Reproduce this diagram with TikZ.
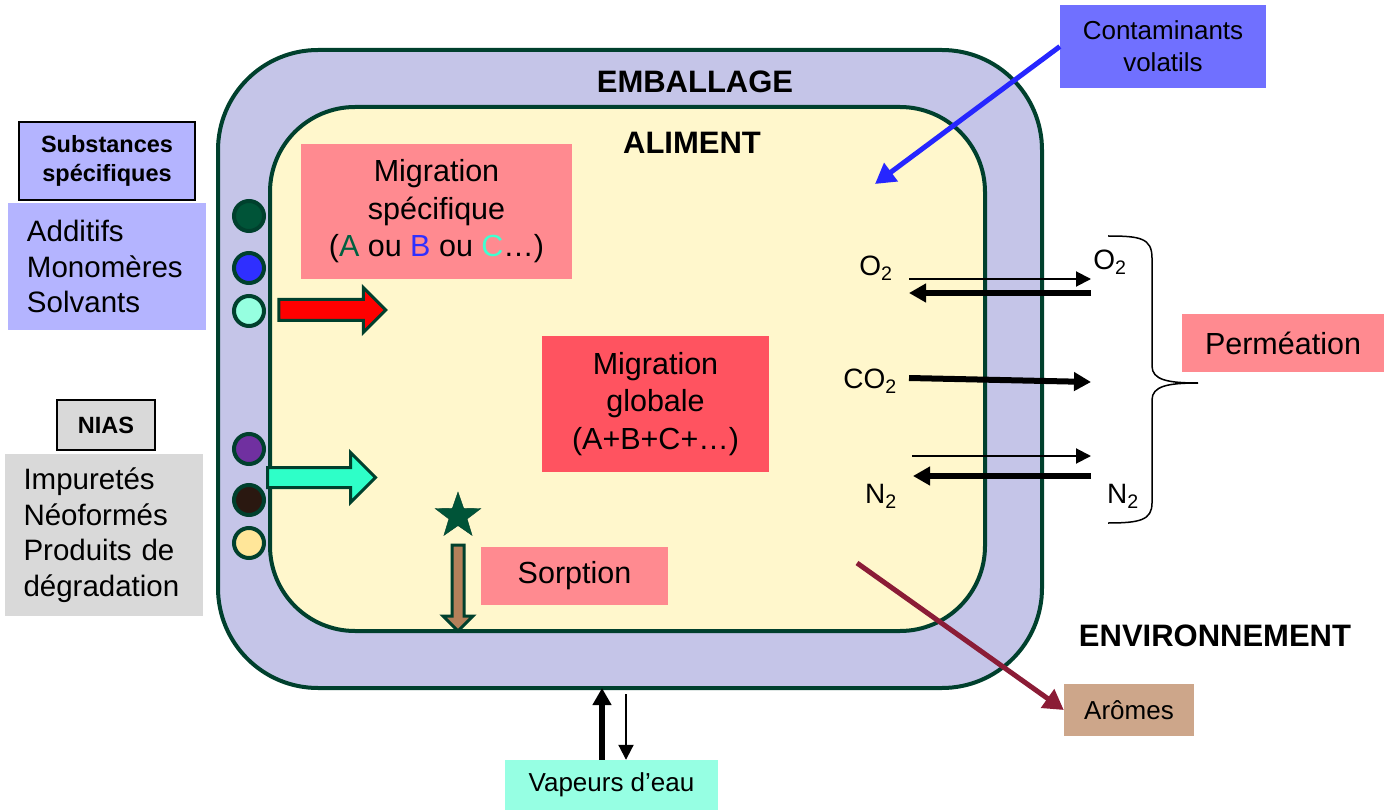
\documentclass[tikz,border=0pt]{standalone}
\usepackage{fontspec}
\setmainfont{Liberation Sans}
\usetikzlibrary{shapes.geometric,shapes.arrows,arrows.meta}

\definecolor{packline}{RGB}{0,64,45}
\definecolor{packfill}{RGB}{197,197,232}
\definecolor{foodfill}{RGB}{255,247,204}
\definecolor{pinkbox}{RGB}{255,138,144}
\definecolor{redbox}{RGB}{255,83,96}
\definecolor{substbox}{RGB}{180,180,255}
\definecolor{contambox}{RGB}{112,112,255}
\definecolor{greybox}{RGB}{217,217,217}
\definecolor{aromebox}{RGB}{205,166,138}
\definecolor{vapbox}{RGB}{150,255,227}
\definecolor{bluearr}{RGB}{38,38,255}
\definecolor{winearr}{RGB}{139,28,54}
\definecolor{tealarr}{RGB}{46,255,200}
\definecolor{sorparr}{RGB}{181,128,90}
\definecolor{dotA}{RGB}{0,84,56}
\definecolor{dotB}{RGB}{47,47,255}
\definecolor{dotC}{RGB}{150,255,224}
\definecolor{dotD}{RGB}{112,48,160}
\definecolor{dotE}{RGB}{42,24,16}
\definecolor{dotF}{RGB}{255,230,153}
\definecolor{letA}{RGB}{0,96,64}
\definecolor{letC}{RGB}{64,255,208}

\begin{document}
\begin{tikzpicture}[x=1pt,y=-1pt,
  pack/.style={draw=packline,line width=4pt,fill=packfill,rounded corners=100pt},
  food/.style={draw=packline,line width=4pt,fill=foodfill,rounded corners=85pt},
  box/.style={inner sep=0pt,align=center,font=\fontsize{30.5}{37.5}\selectfont},
  smallbox/.style={inner sep=0pt,align=center,font=\fontsize{26}{32}\selectfont},
  listbox/.style={inner xsep=19pt,inner ysep=0pt,align=left,text width=160pt,font=\fontsize{29.5}{35.5}\selectfont},
  tagbox/.style={draw=black,line width=1.5pt,inner sep=0pt,align=center,font=\bfseries\fontsize{23.5}{29}\selectfont},
  title/.style={inner sep=0pt,font=\bfseries\fontsize{31}{37}\selectfont},
  gas/.style={inner sep=0pt,font=\fontsize{28}{34}\selectfont},
  dot/.style={circle,draw=packline,line width=4pt,minimum size=30pt,inner sep=0pt},
  bigarrow/.style={single arrow,draw=packline,line width=3pt,inner xsep=0pt},
  thinarr/.style={line width=2pt,-{Triangle[length=15pt,width=15pt]}},
  thickarr/.style={line width=6pt,-{Triangle[length=17pt,width=18pt]}}
]
\useasboundingbox (0,0) rectangle (1384,810);

% emballage et aliment
\node[pack,minimum width=824pt,minimum height=638pt] (emballage) at (630,369) {};
\node[food,minimum width=715pt,minimum height=524pt] (aliment) at (627.5,369) {};

\node[title] (tEmb) at (695,82) {EMBALLAGE};
\node[title] (tAli) at (692,143) {ALIMENT};
\node[title] (tEnv) at (1215,636) {ENVIRONNEMENT};

% substances
\node[tagbox,fill=substbox,minimum width=176pt,minimum height=78pt] (subst) at (107,161) {Substances\\sp\'ecifiques};
\node[listbox,fill=substbox,minimum width=196pt,minimum height=127pt] (substlist) at (107,266.5) {Additifs\\Monom\`eres\\Solvants};
\node[tagbox,fill=greybox,minimum width=98pt,minimum height=50pt] (nias) at (106,425) {NIAS};
\node[listbox,fill=greybox,minimum width=197pt,minimum height=162pt] (niaslist) at (103.5,535) {Impuret\'es\\N\'eoform\'es\\Produits de\\d\'egradation};

\node[dot,fill=dotA] (d1) at (249,216) {};
\node[dot,fill=dotB] (d2) at (249,268) {};
\node[dot,fill=dotC] (d3) at (249,311) {};
\node[dot,fill=dotD] (d4) at (249,449) {};
\node[dot,fill=dotE] (d5) at (249,500) {};
\node[dot,fill=dotF] (d6) at (249,543) {};

\node[bigarrow,fill=red,minimum height=107pt,inner ysep=9pt,single arrow head extend=12pt] (redarr) at (327,310) {};
\node[bigarrow,fill=tealarr,minimum height=108pt,inner ysep=8.5pt,single arrow head extend=15pt] (tealarr) at (316.5,477.5) {};

% migrations
\node[box,fill=pinkbox,minimum width=271pt,minimum height=135pt] (migspec) at (436.5,211.5)
  {Migration\\sp\'ecifique\\({\color{letA}A} ou {\color{dotB}B} ou {\color{letC}C}…)};
\node[box,fill=redbox,minimum width=227pt,minimum height=136pt] (migglob) at (655.5,404)
  {Migration\\globale\\(A+B+C+…)};

% sorption
\node[star,star points=5,star point ratio=2.5,minimum size=48pt,inner sep=0pt,fill=dotA,draw=packline] (star) at (458,516) {};
\node[bigarrow,fill=sorparr,minimum height=86pt,inner ysep=4.5pt,single arrow head extend=9pt,rotate=-90] (sorparr) at (458,585) {};
\node[box,fill=pinkbox,minimum width=187pt,minimum height=58pt] (sorption) at (574.5,576) {Sorption};

% permeation
\node[gas] (o2in) at (876,268) {O\textsubscript{2}};
\node[gas] (co2in) at (870,381) {CO\textsubscript{2}};
\node[gas] (n2in) at (881,496) {N\textsubscript{2}};
\node[gas] (o2out) at (1110,262) {O\textsubscript{2}};
\node[gas] (n2out) at (1123,496) {N\textsubscript{2}};

\coordinate (o2a) at (909,279);
\coordinate (o2b) at (1091,279);
\coordinate (o2c) at (1091,293);
\coordinate (o2d) at (909,293);
\coordinate (co2a) at (909,378);
\coordinate (co2b) at (1091,382);
\coordinate (n2a) at (912,456);
\coordinate (n2b) at (1091,456);
\coordinate (n2c) at (1091,476);
\coordinate (n2d) at (913,476);
\path[draw,thinarr] (o2a) -- (o2b);
\path[draw,thickarr] (o2c) -- (o2d);
\path[draw,thickarr] (co2a) -- (co2b);
\path[draw,thinarr] (n2a) -- (n2b);
\path[draw,thickarr] (n2c) -- (n2d);

\draw[line width=1.5pt] (1108,236) .. controls (1140,236) and (1152,238) .. (1152,258)
  -- (1152,366) .. controls (1152,380) and (1168,383) .. (1198,383)
  .. controls (1168,383) and (1152,386) .. (1152,400)
  -- (1152,503) .. controls (1152,520) and (1140,523) .. (1108,523);
\node[box,fill=pinkbox,minimum width=202pt,minimum height=58pt] (permeation) at (1283,343) {Perm\'eation};

% contaminants, aromes, vapeur
\node[smallbox,fill=contambox,minimum width=206pt,minimum height=83pt] (contam) at (1163,46.5) {Contaminants\\volatils};
\coordinate (contamEnd) at (875,184);
\draw[bluearr,line width=5pt,-{Triangle[length=20pt,width=22pt]}] (contam.west) -- (contamEnd);

\node[smallbox,fill=aromebox,minimum width=130pt,minimum height=52pt] (aromes) at (1129,710) {Ar\^omes};
\coordinate (aromStart) at (857,563);
\draw[winearr,line width=5pt,-{Triangle[length=20pt,width=22pt]}] (aromStart) -- (aromes.west);

\node[smallbox,fill=vapbox,minimum width=213pt,minimum height=50pt] (vapeur) at (611.5,785) {Vapeurs d’eau};
\coordinate (vapUp) at (602,688);
\coordinate (vapDn) at (626,694);
\path[draw,thickarr] (vapUp |- vapeur.north) -- (vapUp);
\path[draw,thinarr] (vapDn) -- (vapDn |- vapeur.north);
\end{tikzpicture}
\end{document}
